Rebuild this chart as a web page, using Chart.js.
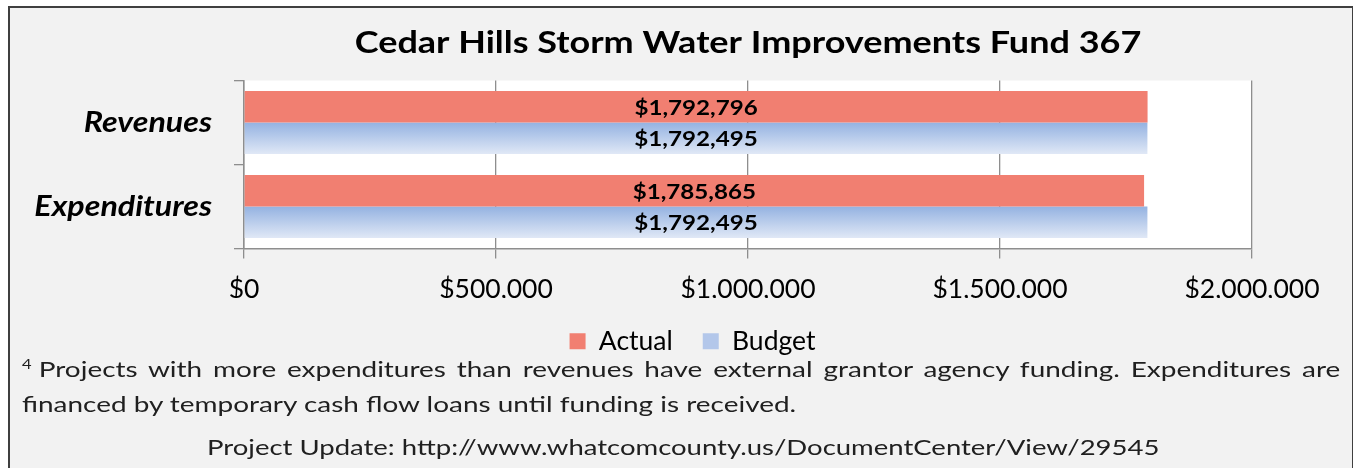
<!DOCTYPE html>
<html>
<head>
<meta charset="utf-8">
<title>Cedar Hills Storm Water Improvements Fund 367</title>
<script src="https://cdn.jsdelivr.net/npm/chart.js@4.4.1/dist/chart.umd.min.js"></script>
<style>
  html, body { margin: 0; padding: 0; background: #ffffff; width: 1353px; height: 468px; overflow: hidden; }
  #frame { position: absolute; left: 8px; top: 6px; width: 1346px; height: 520px; box-sizing: border-box;
           border: 2px solid #3f3f3f; background: #f2f2f2; }
  #chartBox { position: absolute; left: 0; top: 0; width: 1353px; height: 468px; }
  .note { position: absolute; font-family: Lato, "Open Sans", sans-serif; font-size: 22px; line-height: 30px;
          color: #202020; transform-origin: 0 0; }
  #note1 { left: 22px; top: 354px; width: 1038px; text-align: justify; text-align-last: justify; transform: scaleX(1.27); }
  #note2 { left: 22px; top: 389px; white-space: nowrap; transform: scaleX(1.27); }
  #note3 { left: 207px; top: 432px; white-space: nowrap; transform: scaleX(1.25); }
  .lead { display: inline-block; }
  sup { font-size: 13px; vertical-align: 8px; line-height: 0; }
</style>
</head>
<body>
<div id="frame"></div>
<div id="chartBox"><canvas id="chart" width="1353" height="468"></canvas></div>
<div class="note" id="note1"><span class="lead"><sup>4</sup> Projects</span> with more expenditures than revenues have external grantor agency funding. Expenditures are</div>
<div class="note" id="note2">financed by temporary cash flow loans until funding is received.</div>
<div class="note" id="note3">Project Update: http://www.whatcomcounty.us/DocumentCenter/View/29545</div>
<script>
// Fund 367 summary values
const categories = ['Revenues', 'Expenditures'];
const actualValues = [1792796, 1785865];
const budgetValues = [1792495, 1792495];
const xTickValues = [0, 500000, 1000000, 1500000, 2000000];

const FONT = 'Lato, "Open Sans", sans-serif';
const ACTUAL_COLOR = '#f17f71';
const BUDGET_TOP = '#94b2e1';
const BUDGET_BOTTOM = '#e0e8f6';
const AXIS_GRAY = '#8e8e8e';
const CATEGORY_PCT = 0.75;
// Wide-set bold lettering (titles, category names, bar values)
const STRETCH_BOLD = 1.15;

const money = v => '$' + Math.round(v).toLocaleString('en-US');

// Bold canvas text is drawn widened around its anchor point
const canvas = document.getElementById('chart');
const c2d = canvas.getContext('2d');
const baseFill = c2d.fillText.bind(c2d);
const baseMeasure = c2d.measureText.bind(c2d);
const stretchOf = ctx => (/bold/.test(ctx.font) ? STRETCH_BOLD : 1);
c2d.fillText = function (text, x, y, maxWidth) {
  const k = stretchOf(this);
  const hasMax = !(maxWidth === undefined || maxWidth === null);
  if (k === 1) { return hasMax ? baseFill(text, x, y, maxWidth) : baseFill(text, x, y); }
  this.save();
  this.translate(x, y);
  this.scale(k, 1);
  if (hasMax) baseFill(text, 0, 0, maxWidth / k); else baseFill(text, 0, 0);
  this.restore();
};
c2d.measureText = function (text) {
  const k = stretchOf(this);
  const m = baseMeasure(text);
  if (k === 1) return m;
  return {
    width: m.width * k,
    actualBoundingBoxLeft: m.actualBoundingBoxLeft * k,
    actualBoundingBoxRight: m.actualBoundingBoxRight * k,
    actualBoundingBoxAscent: m.actualBoundingBoxAscent,
    actualBoundingBoxDescent: m.actualBoundingBoxDescent,
    fontBoundingBoxAscent: m.fontBoundingBoxAscent,
    fontBoundingBoxDescent: m.fontBoundingBoxDescent
  };
};

// Vertical blue fade for each Budget bar, following its own band on the category scale
function budgetFill(ctx) {
  const chart = ctx.chart;
  const yScale = chart.scales && chart.scales.y;
  if (ctx.type !== 'data' || !yScale || !chart.chartArea) return '#b8caec';
  const center = yScale.getPixelForValue(ctx.dataIndex);
  const band = (yScale.bottom - yScale.top) / categories.length;
  const h = band * CATEGORY_PCT / 2;
  const g = chart.ctx.createLinearGradient(0, center, 0, center + h);
  g.addColorStop(0, BUDGET_TOP);
  g.addColorStop(1, BUDGET_BOTTOM);
  return g;
}

// White plotting surface
const plotSurface = {
  id: 'plotSurface',
  beforeDraw(chart) {
    const a = chart.chartArea;
    chart.ctx.save();
    chart.ctx.fillStyle = '#ffffff';
    chart.ctx.fillRect(a.left, a.top, a.right - a.left, a.bottom - a.top);
    chart.ctx.restore();
  }
};

// Value printed in the middle of every bar
const barValueLabels = {
  id: 'barValueLabels',
  afterDatasetsDraw(chart) {
    const c = chart.ctx;
    c.save();
    c.font = 'bold 21px ' + FONT;
    c.fillStyle = '#000000';
    c.textAlign = 'center';
    c.textBaseline = 'middle';
    chart.data.datasets.forEach((ds, i) => {
      chart.getDatasetMeta(i).data.forEach((bar, j) => {
        const p = bar.getProps(['x', 'y', 'base'], true);
        c.fillText(money(ds.data[j]), (p.x + p.base) / 2, p.y + 1);
      });
    });
    c.restore();
  }
};

// Legend spread across the framed panel
const legendAcrossFrame = {
  id: 'legendAcrossFrame',
  afterLayout(chart) {
    if (chart.legend) { chart.legend.left = 33; chart.legend.right = 1352; }
  }
};

new Chart(canvas, {
  type: 'bar',
  data: {
    labels: categories,
    datasets: [
      { label: 'Actual', data: actualValues, backgroundColor: ACTUAL_COLOR, borderWidth: 0,
        categoryPercentage: CATEGORY_PCT, barPercentage: 1 },
      { label: 'Budget', data: budgetValues, backgroundColor: budgetFill, borderWidth: 0,
        categoryPercentage: CATEGORY_PCT, barPercentage: 1 }
    ]
  },
  options: {
    indexAxis: 'y',
    responsive: false,
    animation: false,
    devicePixelRatio: 1,
    layout: { padding: { top: 0, left: 0, right: 101, bottom: 103.5 } },
    scales: {
      x: {
        min: 0, max: 2000000,
        afterBuildTicks: s => { s.ticks = xTickValues.map(v => ({ value: v })); },
        afterFit: s => { s.height = 49.5; },
        grid: { color: AXIS_GRAY, lineWidth: 1.3, tickLength: 10, drawOnChartArea: true },
        border: { color: AXIS_GRAY, width: 1.5 },
        ticks: { color: '#000000', padding: 15, maxRotation: 0, autoSkip: false,
                 font: { family: FONT, size: 26.5 }, callback: v => money(v) }
      },
      y: {
        afterFit: s => { s.width = 244; },
        grid: { color: AXIS_GRAY, lineWidth: 1.3, tickLength: 10, drawOnChartArea: false, offset: true },
        border: { color: AXIS_GRAY, width: 1.5 },
        ticks: { color: '#000000', padding: 22,
                 font: { family: FONT, size: 28, weight: 'bold', style: 'italic' } }
      }
    },
    plugins: {
      title: {
        display: true, text: 'Cedar Hills Storm Water Improvements Fund 367', fullSize: false,
        color: '#000000', font: { family: FONT, size: 31.3, weight: 'bold', lineHeight: 1.2 },
        padding: { top: 24.4, bottom: 18.6 }
      },
      legend: {
        position: 'bottom',
        labels: {
          color: '#000000', font: { family: FONT, size: 26.5 }, boxWidth: 16, boxHeight: 16, padding: 30,
          generateLabels: chart => chart.data.datasets.map((ds, i) => ({
            text: ds.label, fillStyle: i === 0 ? ACTUAL_COLOR : '#b3c7ea', strokeStyle: 'rgba(0,0,0,0)',
            lineWidth: 0, datasetIndex: i, hidden: false
          }))
        }
      },
      tooltip: { enabled: false }
    }
  },
  plugins: [plotSurface, barValueLabels, legendAcrossFrame]
});
</script>
</body>
</html>
